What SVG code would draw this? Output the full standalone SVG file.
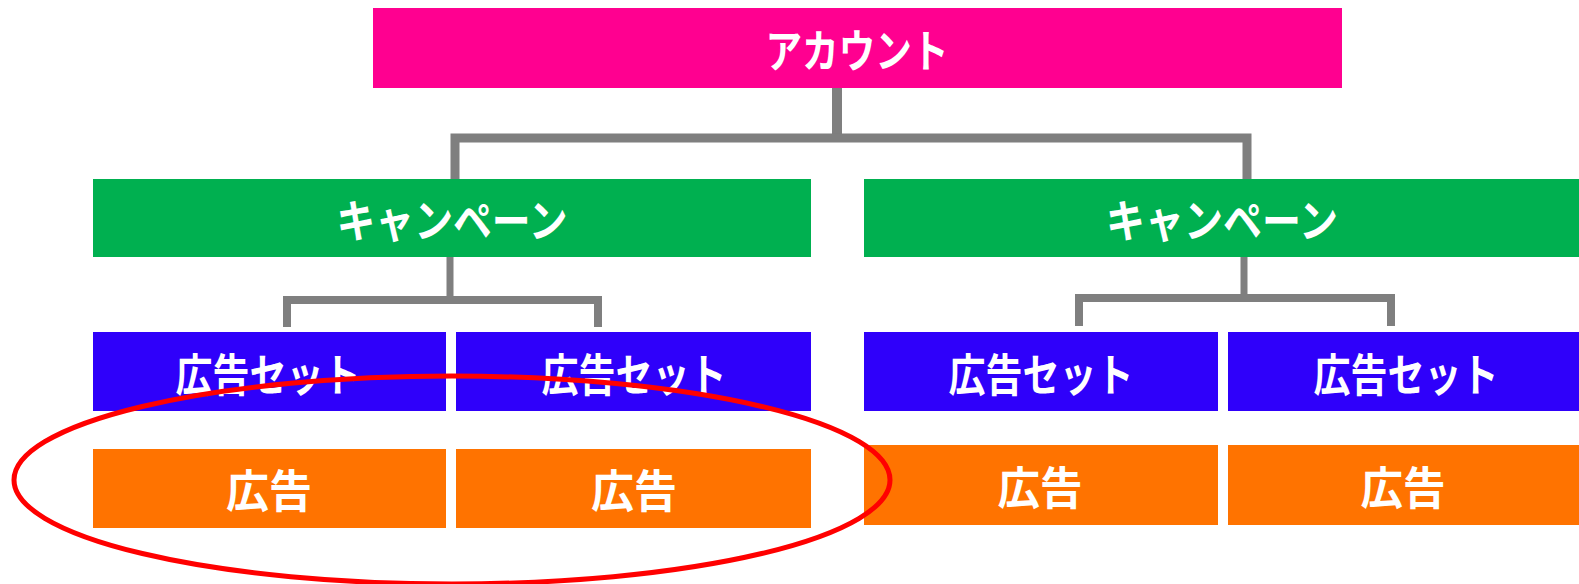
<svg xmlns="http://www.w3.org/2000/svg" width="1579" height="584" viewBox="0 0 1579 584">
  <style>
    .lbl { font-family: "Noto Sans CJK JP", "Noto Sans", sans-serif; font-weight: bold; font-size: 45px; fill: #ffffff; text-anchor: middle; dominant-baseline: central; }
    .acct { fill: #ff0090; }
    .camp { fill: #00b050; }
    .set { fill: #2f00fa; }
    .ad { fill: #ff7300; }
    .conn { fill: none; stroke: #7f7f7f; stroke-linejoin: miter; stroke-linecap: butt; }
  </style>
  <rect width="1579" height="584" fill="#ffffff"/>
  <g id="connectors">
    <path class="conn" stroke-width="10" d="M837 88 V138"/>
    <path class="conn" stroke-width="9" d="M455 179 V138 H1247 V179"/>
    <path class="conn" stroke-width="7" d="M450 257 V300"/>
    <path class="conn" stroke-width="8" d="M287 327 V300 H598 V327"/>
    <path class="conn" stroke-width="7" d="M1244 257 V298"/>
    <path class="conn" stroke-width="8" d="M1079 326 V298 H1391 V326"/>
  </g>
  <g id="account">
    <rect class="acct" x="373" y="8" width="969" height="80"/>
    <text class="lbl" x="857" y="48" textLength="183" lengthAdjust="spacingAndGlyphs">アカウント</text>
  </g>
  <g id="campaign-left">
    <rect class="camp" x="93" y="179" width="718" height="78"/>
    <text class="lbl" x="452" y="218" textLength="231" lengthAdjust="spacingAndGlyphs">キャンペーン</text>
  </g>
  <g id="campaign-right">
    <rect class="camp" x="864" y="179" width="715" height="78"/>
    <text class="lbl" x="1222" y="218" textLength="232" lengthAdjust="spacingAndGlyphs">キャンペーン</text>
  </g>
  <g id="adset-1">
    <rect class="set" x="93" y="332" width="353" height="79"/>
    <text class="lbl" x="268" y="372" textLength="185" lengthAdjust="spacingAndGlyphs">広告セット</text>
  </g>
  <g id="adset-2">
    <rect class="set" x="456" y="332" width="355" height="79"/>
    <text class="lbl" x="634" y="372" textLength="185" lengthAdjust="spacingAndGlyphs">広告セット</text>
  </g>
  <g id="adset-3">
    <rect class="set" x="864" y="332" width="354" height="79"/>
    <text class="lbl" x="1041" y="372" textLength="185" lengthAdjust="spacingAndGlyphs">広告セット</text>
  </g>
  <g id="adset-4">
    <rect class="set" x="1228" y="332" width="351" height="79"/>
    <text class="lbl" x="1406" y="372" textLength="185" lengthAdjust="spacingAndGlyphs">広告セット</text>
  </g>
  <g id="ad-1">
    <rect class="ad" x="93" y="449" width="353" height="79"/>
    <text class="lbl" x="269" y="488" textLength="86" lengthAdjust="spacingAndGlyphs">広告</text>
  </g>
  <g id="ad-2">
    <rect class="ad" x="456" y="449" width="355" height="79"/>
    <text class="lbl" x="634" y="488" textLength="86" lengthAdjust="spacingAndGlyphs">広告</text>
  </g>
  <g id="ad-3">
    <rect class="ad" x="864" y="445" width="354" height="80"/>
    <text class="lbl" x="1040" y="485" textLength="85" lengthAdjust="spacingAndGlyphs">広告</text>
  </g>
  <g id="ad-4">
    <rect class="ad" x="1228" y="445" width="351" height="80"/>
    <text class="lbl" x="1403" y="485" textLength="85" lengthAdjust="spacingAndGlyphs">広告</text>
  </g>
  <ellipse id="highlight" cx="452" cy="480" rx="438" ry="104" fill="none" stroke="#ff0000" stroke-width="5"/>
</svg>
